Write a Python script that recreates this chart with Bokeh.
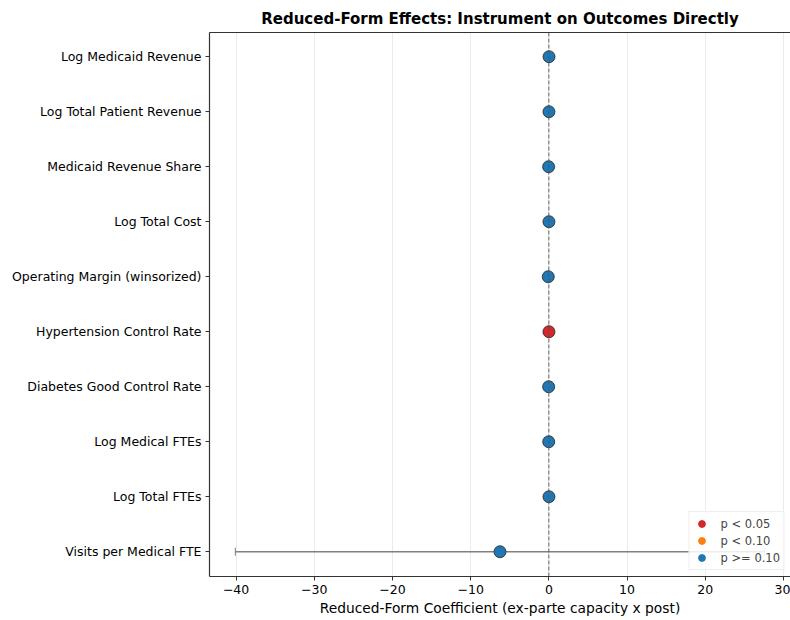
from bokeh.plotting import figure
from bokeh.models import ColumnDataSource, Whisker, Span, Legend, LegendItem, FixedTicker, Range1d, LinearAxis
from bokeh.embed import file_html
from bokeh.resources import INLINE

categories = [
    "Log Medicaid Revenue",
    "Log Total Patient Revenue",
    "Medicaid Revenue Share",
    "Log Total Cost",
    "Operating Margin (winsorized)",
    "Hypertension Control Rate",
    "Diabetes Good Control Rate",
    "Log Medical FTEs",
    "Log Total FTEs",
    "Visits per Medical FTE",
]
coef = [0.02, 0.01, -0.03, 0.01, -0.08, 0.01, -0.03, -0.02, 0.01, -6.25]
ci_low = [-0.05, -0.05, -0.06, -0.05, -0.3, -0.01, -0.1, -0.1, -0.05, -40.1]
ci_high = [0.09, 0.07, 0.0, 0.07, 0.14, 0.03, 0.04, 0.06, 0.07, 27.6]
pvals = ["p >= 0.10", "p >= 0.10", "p >= 0.10", "p >= 0.10", "p >= 0.10",
         "p < 0.05", "p >= 0.10", "p >= 0.10", "p >= 0.10", "p >= 0.10"]
legend_labels = ["p < 0.05", "p < 0.10", "p >= 0.10"]
legend_colors = ["#d62728", "#ff7f0e", "#1f77b4"]
x_ticks = [-40, -30, -20, -10, 0, 10, 20, 30]

ypos = list(range(len(categories)))
color_map = dict(zip(legend_labels, legend_colors))
colors = [color_map[p] for p in pvals]

src = ColumnDataSource(dict(y=ypos, coef=coef, lo=ci_low, hi=ci_high, color=colors))

FONT = "DejaVu Sans"
p = figure(width=790, height=620, output_backend="svg", toolbar_location=None,
           x_range=Range1d(-43.4, 30.9), y_range=Range1d(len(categories) - 0.55, -0.44),
           min_border_left=209, min_border_right=0, min_border_top=32, min_border_bottom=44)

p.title.text = "Reduced-Form Effects: Instrument on Outcomes Directly"
p.title.align = "center"
p.title.text_font = FONT
p.title.text_font_size = "15px"
p.title.text_font_style = "bold"
p.title.text_color = "#000000"

p.outline_line_color = None

top = LinearAxis(ticker=FixedTicker(ticks=[]), major_tick_line_color=None,
                 minor_tick_line_color=None, axis_line_color="#333333", axis_line_width=1.2,
                 major_label_standoff=0, major_tick_out=0, major_tick_in=0)
p.add_layout(top, "above")

p.xgrid.grid_line_color = "#ebebeb"
p.xgrid.grid_line_width = 1
p.ygrid.grid_line_color = None

xax = p.below[0]
yax = p.left[0]
xax.ticker = FixedTicker(ticks=x_ticks)
xax.major_label_overrides = {t: ("\u2212" + str(abs(t)) if t < 0 else str(t)) for t in x_ticks}
yax.ticker = FixedTicker(ticks=ypos)
yax.major_label_overrides = {i: c for i, c in enumerate(categories)}
xax.axis_label = "Reduced-Form Coefficient (ex-parte capacity x post)"
for ax in (xax, yax):
    ax.major_label_text_font = FONT
    ax.major_label_text_font_size = "12.5px"
    ax.major_label_text_color = "#000000"
    ax.axis_label_text_font = FONT
    ax.axis_label_text_font_size = "13.8px"
    ax.axis_label_text_font_style = "normal"
    ax.axis_label_text_color = "#000000"
    ax.axis_line_color = "#333333"
    ax.axis_line_width = 1.2
    ax.major_tick_line_color = "#333333"
    ax.major_tick_out = 4
    ax.major_tick_in = 0
    ax.minor_tick_line_color = None
    ax.major_label_standoff = 4
xax.axis_label_standoff = 3

zero = Span(location=0, dimension="height", line_color="#555555", line_dash="4 2", line_width=0.9)
p.add_layout(zero)

wh = Whisker(source=src, base="y", lower="lo", upper="hi", dimension="width",
             line_color="#808080", line_width=1.3)
wh.upper_head.size = 8
wh.lower_head.size = 8
wh.upper_head.line_color = "#808080"
wh.lower_head.line_color = "#808080"
p.add_layout(wh)

p.scatter(x="coef", y="y", source=src, size=12, fill_color="color",
          line_color="#222222", line_width=0.8)

items = []
for lab, col in zip(legend_labels, legend_colors):
    r = p.scatter(x=[float("nan")], y=[float("nan")], size=9, fill_color=col, line_color=col)
    items.append(LegendItem(label=lab, renderers=[r]))
leg = Legend(items=items, location="bottom_right")
leg.label_text_font = FONT
leg.label_text_font_size = "11.5px"
leg.border_line_color = "#dddddd"
leg.background_fill_alpha = 0.85
leg.spacing = 0
leg.padding = 3
leg.margin = 6
leg.glyph_width = 18
leg.glyph_height = 17
leg.label_height = 17
leg.label_standoff = 10
p.add_layout(leg)

open("out.html", "w").write(file_html(p, INLINE))
